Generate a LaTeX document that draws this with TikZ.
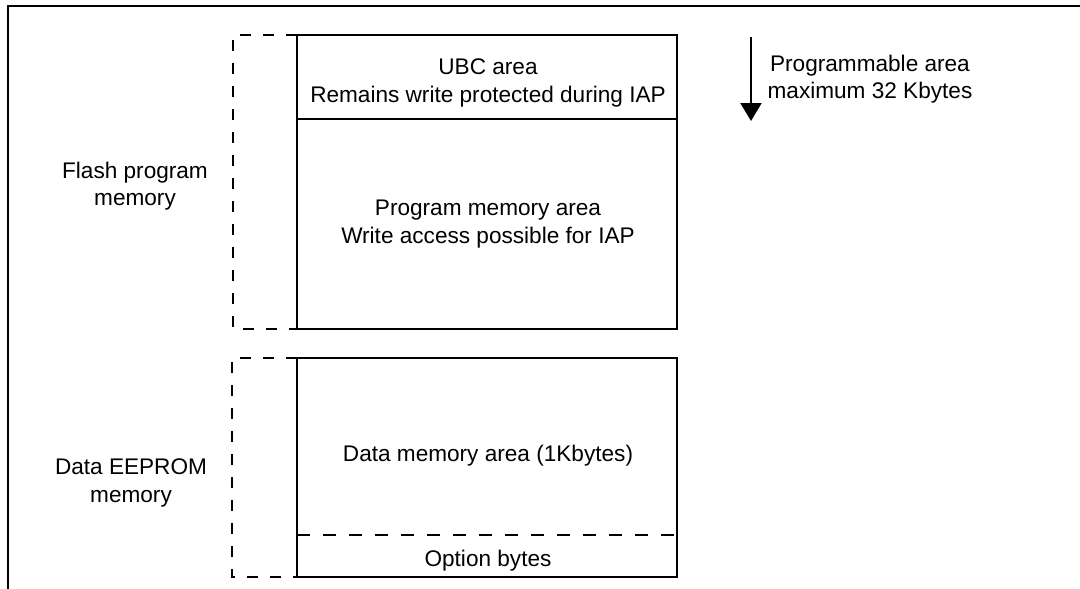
\documentclass[tikz,border=0pt]{standalone}
\usepackage{fontspec}
\setmainfont{Liberation Sans}
\usetikzlibrary{arrows.meta}
\begin{document}
\begin{tikzpicture}[x=1pt,y=-1pt,
  lbl/.style={align=center,font=\fontsize{22.6}{27.5}\selectfont,inner sep=0pt},
  memblock/.style={draw,line width=2.4pt,minimum width=380pt,inner sep=0pt,outer sep=0pt,anchor=north west},
  bracket/.style={line width=2.4pt,dash pattern=on 11pt off 12pt},
  sepline/.style={line width=2.4pt,dash pattern=on 13pt off 13pt},
  frame/.style={line width=2.8pt}]
\useasboundingbox (0,0) rectangle (1080,589);
% outer frame
\coordinate (frBL) at (8,600);
\coordinate (frTL) at (8,6);
\coordinate (frTR) at (1090,6);
\draw[frame] (frBL) -- (frTL) -- (frTR);
% memory blocks
\node[memblock,minimum height=84pt] (ubc) at (297,35) {};
\node[memblock,minimum height=210pt] (prog) at (297,119) {};
\node[memblock,minimum height=219pt] (data) at (297,358) {};
\coordinate (sepL) at (297,535);
\coordinate (sepR) at (677,535);
\draw[sepline] (sepL) -- (sepR);
% dashed brackets
\coordinate (fbT) at (233,35);
\coordinate (fbB) at (233,329);
\draw[bracket] (ubc.north west) -- (fbT) -- (fbB) -- (prog.south west);
\coordinate (dbT) at (232,358);
\coordinate (dbB) at (232,577);
\draw[bracket] (data.north west) -- (dbT) -- (dbB) -- (data.south west);
% texts
\node[lbl] (ubctxt) at (488,83) {UBC area\\Remains write protected during IAP};
\node[lbl] (progtxt) at (488,224) {Program memory area\\Write access possible for IAP};
\node[lbl] (datatxt) at (488,456) {Data memory area (1Kbytes)};
\node[lbl] (opttxt) at (488,561) {Option bytes};
\node[lbl] (flashlbl) at (135,186) {Flash program\\memory};
\node[lbl] (eeplbl) at (131,483) {Data EEPROM\\memory};
\node[lbl] (patxt) at (870,79) {Programmable area\\maximum 32 Kbytes};
% arrow
\coordinate (aT) at (751,37);
\coordinate (aB) at (751,121);
\draw[line width=2.2pt,-{Triangle[width=21pt,length=18pt]}] (aT) -- (aB);
\end{tikzpicture}
\end{document}
